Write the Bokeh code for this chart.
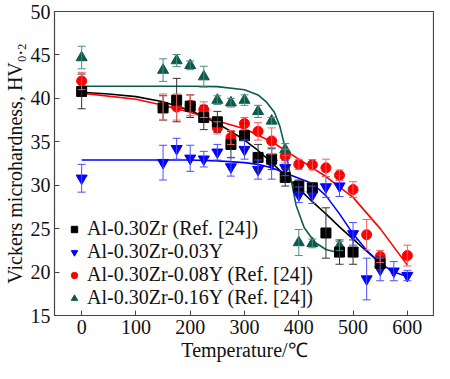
from bokeh.plotting import figure
from bokeh.models import (Whisker, TeeHead, ColumnDataSource, Legend, LegendItem,
                          Range1d, FixedTicker)
from bokeh.embed import file_html
from bokeh.resources import INLINE

# ---------------- data ----------------
temp_zr = [0, 150, 175, 200, 225, 250, 275, 300, 325, 350, 375, 400, 425, 450, 475, 500, 550]
hv_zr = [40.8, 38.9, 39.8, 39.1, 37.8, 37.3, 34.7, 35.7, 33.2, 33.0, 30.9, 29.9, 29.7, 24.5, 22.3, 22.3, 21.0]
err_zr = [2.0, 1.4, 2.5, 1.3, 1.4, 1.2, 1.5, 1.4, 1.5, 1.2, 1.0, 0.7, 0.6, 2.9, 1.4, 1.4, 0.75]

temp_03y = [0, 150, 175, 200, 225, 250, 275, 300, 325, 350, 375, 400, 425, 450, 475, 500, 525, 550, 575, 600]
hv_03y = [30.8, 32.6, 34.2, 33.1, 33.0, 33.8, 32.1, 34.1, 31.8, 32.5, 32.0, 28.9, 28.9, 29.8, 29.9, 24.4, 19.2, 20.3, 20.1, 19.6]
err_03y = [1.6, 2.0, 1.2, 1.5, 0.9, 0.9, 1.05, 1.1, 1.1, 1.8, 0.9, 0.9, 1.0, 1.2, 1.2, 1.3, 2.4, 1.3, 1.1, 0.6]

temp_08y = [0, 150, 175, 200, 225, 250, 275, 300, 325, 350, 375, 400, 425, 450, 475, 500, 525, 550, 600]
hv_08y = [42.0, 39.0, 39.0, 39.2, 38.7, 36.6, 35.5, 37.1, 36.2, 35.1, 33.35, 32.4, 32.35, 32.0, 31.15, 29.5, 24.3, 21.8, 21.9]
err_08y = [1.0, 1.5, 1.5, 1.2, 0.9, 0.7, 0.8, 0.7, 1.0, 1.5, 0.8, 0.6, 0.6, 1.0, 0.6, 0.9, 1.75, 0.7, 1.2]

temp_16y = [0, 150, 175, 200, 225, 250, 275, 300, 325, 350, 375, 400, 425, 475]
hv_16y = [44.7, 43.25, 44.35, 43.8, 42.5, 39.8, 39.5, 39.8, 38.5, 37.4, 34.1, 23.4, 23.3, 23.0]
err_16y = [1.3, 1.3, 0.7, 0.5, 1.2, 0.5, 0.5, 0.6, 0.7, 0.4, 0.7, 1.5, 0.5, 0.5]

# fitted curves
fit_t_zr = [0, 50, 100, 150, 200, 225, 250, 275, 300, 325, 350, 375, 400, 425, 450, 475, 500, 525, 550]
fit_zr = [40.7, 40.5, 40.2, 39.6, 38.6, 37.9, 37.1, 36.2, 35.2, 34.0, 32.6, 31.1, 29.6, 28.1, 26.7, 25.2, 23.8, 22.4, 21.05]

fit_t_03y = [0, 100, 200, 250, 300, 325, 350, 375, 400, 425, 450, 475, 500, 525, 550, 575, 600]
fit_03y = [32.9, 32.9, 32.9, 32.8, 32.6, 32.4, 32.0, 31.4, 30.8, 30.2, 28.8, 26.7, 24.4, 22.5, 21.0, 20.0, 19.5]

fit_t_08y = [0, 100, 150, 200, 250, 300, 350, 400, 450, 500, 550, 600]
fit_08y = [40.6, 39.9, 39.2, 38.4, 37.4, 36.5, 35.0, 33.0, 31.0, 28.6, 25.0, 20.8]

fit_t_16y = [0, 100, 200, 250, 300, 325, 340, 355, 365, 375, 385, 395, 410, 430, 450, 475]
fit_16y = [41.4, 41.4, 41.4, 41.35, 41.0, 40.4, 39.6, 38.4, 36.8, 34.3, 30.9, 27.7, 25.1, 23.4, 22.6, 22.2]

labels = ["Al-0.30Zr (Ref. [24])", "Al-0.30Zr-0.03Y",
          "Al-0.30Zr-0.08Y (Ref. [24])", "Al-0.30Zr-0.16Y (Ref. [24])"]
x_ticks = [0, 100, 200, 300, 400, 500, 600]
y_ticks = [15, 20, 25, 30, 35, 40, 45, 50]

FONT = "Liberation Serif"

p = figure(width=434, height=363, output_backend="svg", toolbar_location=None,
           x_range=Range1d(-50, 650), y_range=Range1d(15, 50),
           min_border_left=40, min_border_right=0, min_border_top=11, min_border_bottom=5)
p.grid.visible = False
p.outline_line_color = "#444444"
p.outline_line_width = 1.2

for ax in (p.xaxis[0], p.yaxis[0]):
    ax.major_label_text_font = FONT
    ax.major_label_text_font_size = "20px"
    ax.major_label_text_color = "#111111"
    ax.axis_label_text_font = FONT
    ax.axis_label_text_font_size = "20px"
    ax.axis_label_text_font_style = "normal"
    ax.axis_label_text_color = "#111111"
    ax.major_tick_in = 5
    ax.major_tick_out = 0
    ax.minor_tick_line_color = None
    ax.axis_line_color = "#444444"
    ax.major_tick_line_color = "#444444"
    ax.major_label_standoff = 4
    ax.axis_label_standoff = 2

p.xaxis.ticker = FixedTicker(ticks=x_ticks)
p.yaxis.ticker = FixedTicker(ticks=y_ticks)
p.xaxis.axis_label = "Temperature/\u2103"
p.yaxis.axis_label = "Vickers microhardness, HV\u2080.\u2082"

series = [
    (temp_zr, hv_zr, err_zr, fit_t_zr, fit_zr, "#000000", "#333333", "square", 10),
    (temp_03y, hv_03y, err_03y, fit_t_03y, fit_03y, "#0000FF", "#4D4DFF", "inverted_triangle", 11),
    (temp_08y, hv_08y, err_08y, fit_t_08y, fit_08y, "#FF0000", "#F06060", "circle", 10),
    (temp_16y, hv_16y, err_16y, fit_t_16y, fit_16y, "#0B5A4C", "#4F8C80", "triangle", 11),
]

renderers = {}
for t, hv, err, ft, fv, col, ecol, mk, sz in series:
    p.line(ft, fv, line_color=col, line_width=1.6)

for t, hv, err, ft, fv, col, ecol, mk, sz in series:
    src = ColumnDataSource(dict(x=t, upper=[a + b for a, b in zip(hv, err)],
                                lower=[a - b for a, b in zip(hv, err)]))
    w = Whisker(source=src, base="x", upper="upper", lower="lower",
                line_color=ecol, line_width=1,
                upper_head=TeeHead(size=8, line_color=ecol, line_width=1),
                lower_head=TeeHead(size=8, line_color=ecol, line_width=1),
                level="glyph")
    p.add_layout(w)

order = [2, 3, 1, 0]
for i in order:
    t, hv, err, ft, fv, col, ecol, mk, sz = series[i]
    r = p.scatter(t, hv, marker=mk, size=sz, fill_color=col, line_color=col)
    renderers[i] = r

legend = Legend(items=[LegendItem(label=labels[i], renderers=[renderers[i]]) for i in range(4)],
                location=(12, 6), margin=0, padding=0, spacing=0,
                glyph_width=16, glyph_height=20, label_height=20, label_standoff=5,
                label_text_font=FONT, label_text_font_size="20px", label_text_color="#111111",
                background_fill_alpha=0, border_line_alpha=0)
p.add_layout(legend)

open("out.html", "w").write(file_html(p, INLINE))
